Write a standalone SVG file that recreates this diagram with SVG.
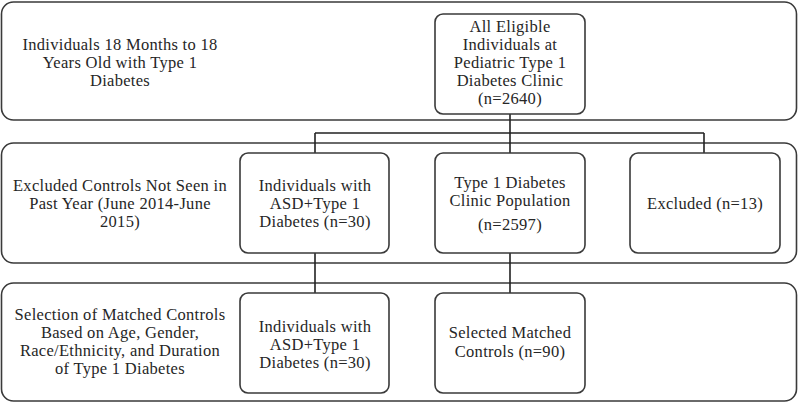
<svg xmlns="http://www.w3.org/2000/svg" width="800" height="405" viewBox="0 0 800 405" font-family="'Liberation Serif', 'DejaVu Serif', serif">
<style>
.band{fill:#fff;stroke:#3a3a3a;stroke-width:1.6}
.box{fill:#fff;stroke:#3a3a3a;stroke-width:1.6}
.t{font-family:'Liberation Serif','DejaVu Serif',serif;font-size:16.5px;letter-spacing:0.3px;fill:#262626;text-anchor:middle}
.c{fill:none;stroke:#222;stroke-width:1.6}
</style>
<rect width="800" height="405" fill="#fff"/>
<g id="band1">
<rect class="band" x="1.5" y="2" width="795" height="118" rx="12"/>
<text class="t" x="120" y="49.5">Individuals 18 Months to 18</text>
<text class="t" x="120" y="67.5">Years Old with Type 1</text>
<text class="t" x="120" y="85.5">Diabetes</text>
</g>
<g id="band2">
<rect class="band" x="1.5" y="143" width="795" height="120" rx="12"/>
<text class="t" x="120" y="191">Excluded Controls Not Seen in</text>
<text class="t" x="120" y="209">Past Year (June 2014-June</text>
<text class="t" x="120" y="227">2015)</text>
</g>
<g id="band3">
<rect class="band" x="1.5" y="283" width="795" height="118" rx="12"/>
<text class="t" x="120" y="320">Selection of Matched Controls</text>
<text class="t" x="120" y="338">Based on Age, Gender,</text>
<text class="t" x="120" y="356">Race/Ethnicity, and Duration</text>
<text class="t" x="120" y="374">of Type 1 Diabetes</text>
</g>
<g id="connectors">
<path class="c" d="M510 114 V133 M315 133 H704 M315 133 V153 M510 133 V153 M704 133 V153 M315 253 V293 M510 253 V293"/>
</g>
<g id="all-eligible">
<rect class="box" x="435" y="14" width="150" height="100" rx="8"/>
<text class="t" x="510" y="32">All Eligible</text>
<text class="t" x="510" y="50">Individuals at</text>
<text class="t" x="510" y="68">Pediatric Type 1</text>
<text class="t" x="510" y="86">Diabetes Clinic</text>
<text class="t" x="510" y="104">(n=2640)</text>
</g>
<g id="asd1">
<rect class="box" x="240" y="153" width="149" height="100" rx="8"/>
<text class="t" x="315" y="191">Individuals with</text>
<text class="t" x="315" y="209">ASD+Type 1</text>
<text class="t" x="315" y="227">Diabetes (n=30)</text>
</g>
<g id="clinic">
<rect class="box" x="435" y="153" width="150" height="100" rx="8"/>
<text class="t" x="510" y="188">Type 1 Diabetes</text>
<text class="t" x="510" y="206">Clinic Population</text>
<text class="t" x="510" y="230">(n=2597)</text>
</g>
<g id="excluded">
<rect class="box" x="630" y="153" width="150" height="100" rx="8"/>
<text class="t" x="705" y="209">Excluded (n=13)</text>
</g>
<g id="asd2">
<rect class="box" x="240" y="293" width="149" height="100" rx="8"/>
<text class="t" x="315" y="332">Individuals with</text>
<text class="t" x="315" y="350">ASD+Type 1</text>
<text class="t" x="315" y="368">Diabetes (n=30)</text>
</g>
<g id="matched">
<rect class="box" x="435" y="293" width="150" height="100" rx="8"/>
<text class="t" x="510" y="338">Selected Matched</text>
<text class="t" x="510" y="357">Controls (n=90)</text>
</g>
</svg>
